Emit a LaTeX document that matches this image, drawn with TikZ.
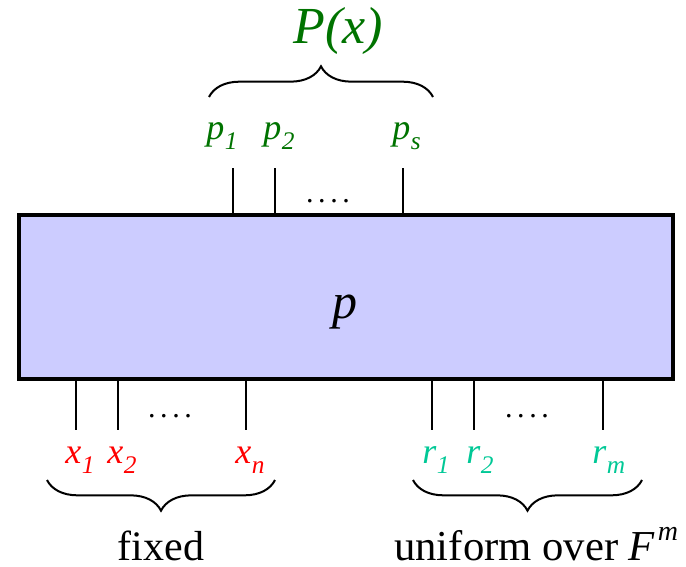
\documentclass[tikz,border=0pt]{standalone}
\usepackage{fontspec}
\setmainfont{Liberation Serif}
\usetikzlibrary{decorations.pathreplacing}
\definecolor{boxfill}{RGB}{204,204,255}
\definecolor{pgreen}{RGB}{0,115,0}
\definecolor{xred}{RGB}{255,0,0}
\definecolor{rteal}{RGB}{0,200,150}
\newcommand\lbl[2]{\itshape #1\kern0.5pt\raisebox{-7.5pt}{\fontsize{19pt}{19pt}\selectfont #2}}
\newcommand\fourdots{.\kern3.4pt.\kern3.4pt.\kern3.4pt.}
\begin{document}
\begin{tikzpicture}[x=0.75pt,y=-0.75pt,
  wire/.style={line width=1.5pt},
  brc/.style={decorate,decoration={brace,amplitude=23pt},line width=1.5pt},
  lab/.style={anchor=base west,inner sep=0pt,font=\fontsize{27pt}{27pt}\selectfont},
  dotsl/.style={anchor=base,inner sep=0pt,font=\fontsize{22.5pt}{22.5pt}\selectfont},
  big/.style={anchor=base,inner sep=0pt,text depth=0pt,font=\fontsize{31.5pt}{31.5pt}\selectfont}]
\useasboundingbox (0,0) rectangle (686,567);
% main box
\node[draw,line width=3pt,fill=boxfill,minimum width=490.5pt,minimum height=123pt,
      inner sep=0pt] (box) at (346,297) {};
\node[anchor=base,inner sep=0pt,font=\fontsize{37.5pt}{37.5pt}\selectfont\itshape] (plabel) at (345,318) {p};
% top wires
\coordinate (t1a) at (233,213); \coordinate (t1b) at (233,168);
\coordinate (t2a) at (275,213); \coordinate (t2b) at (275,168);
\coordinate (tsa) at (403,213); \coordinate (tsb) at (403,168);
\draw[wire] (t1a) -- (t1b);
\draw[wire] (t2a) -- (t2b);
\draw[wire] (tsa) -- (tsb);
\node[dotsl] (tdots) at (328,202) {\fourdots};
% bottom wires
\coordinate (x1a) at (76,381); \coordinate (x1b) at (76,430);
\coordinate (x2a) at (118,381); \coordinate (x2b) at (118,430);
\coordinate (xna) at (246,381); \coordinate (xnb) at (246,430);
\coordinate (r1a) at (432,381); \coordinate (r1b) at (432,430);
\coordinate (r2a) at (474,381); \coordinate (r2b) at (474,430);
\coordinate (rma) at (603,381); \coordinate (rmb) at (603,430);
\draw[wire] (x1a) -- (x1b);
\draw[wire] (x2a) -- (x2b);
\draw[wire] (xna) -- (xnb);
\draw[wire] (r1a) -- (r1b);
\draw[wire] (r2a) -- (r2b);
\draw[wire] (rma) -- (rmb);
\node[dotsl] (xdots) at (170,417) {\fourdots};
\node[dotsl] (rdots) at (527,417) {\fourdots};
% top labels
\node[lab,text=pgreen] (p1) at (206,140) {\lbl{p}{1}};
\node[lab,text=pgreen] (p2) at (263,140) {\lbl{p}{2}};
\node[lab,text=pgreen] (ps) at (392,140) {\lbl{p}{s}};
% bottom labels
\node[lab,text=xred] (x1) at (65,463) {\lbl{x}{1}};
\node[lab,text=xred] (x2) at (107,463) {\lbl{x}{2}};
\node[lab,text=xred] (xn) at (235,463) {\lbl{x}{n}};
\node[lab,text=rteal] (r1) at (422,463) {\lbl{r}{1}};
\node[lab,text=rteal] (r2) at (466,463) {\lbl{r}{2}};
\node[lab,text=rteal] (rm) at (592,463) {\lbl{r}{m}};
% braces
\coordinate (tbl) at (209,97); \coordinate (tbr) at (433,97);
\draw[brc] (tbl) -- (tbr);
\coordinate (xbl) at (47,480); \coordinate (xbr) at (275,480);
\draw[brc] (xbr) -- (xbl);
\coordinate (rbl) at (413,480); \coordinate (rbr) at (642,480);
\draw[brc] (rbr) -- (rbl);
% brace labels
\node[anchor=base,inner sep=0pt,text=pgreen,font=\fontsize{39pt}{39pt}\selectfont\itshape] (Px) at (338,44) {P(x)};
\node[big] (fixed) at (161,560) {fixed};
\node[anchor=base west,inner sep=0pt,text depth=0pt,font=\fontsize{32pt}{32pt}\selectfont] (unif) at (394,560) {uniform over \textit{F}\kern2pt\raisebox{15pt}{\fontsize{21pt}{21pt}\selectfont\itshape m}};
\end{tikzpicture}
\end{document}
